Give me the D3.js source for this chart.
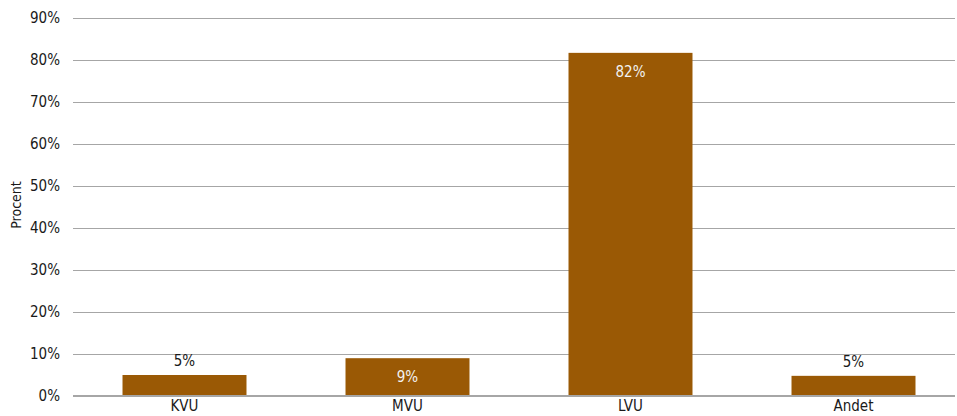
<!DOCTYPE html>
<html><head><meta charset="utf-8">
<script src="https://cdn.jsdelivr.net/npm/d3@7"></script>
<style>
body{margin:0;background:#fff;}
text{font-family:"DejaVu Sans Condensed","DejaVu Sans",sans-serif;font-size:15px;fill:#1a1a1a;}
</style></head>
<body><svg id="c" width="957" height="416"></svg>
<script>
const categories = ["KVU","MVU","LVU","Andet"];
const values = [5.0, 9.0, 81.7, 4.8];
const labels = ["5%","9%","82%","5%"];
const labelInside = [false, true, true, false];
const yTicks = [0,10,20,30,40,50,60,70,80,90];

(function(){
const svg = d3.select("#c");
const mLeft = 73, mRight = 955, mTop = 18, mBottom = 396;
const x = d3.scaleBand().domain(categories).range([mLeft, mLeft + 223*4]).paddingInner(0.444).paddingOuter(0.222);
const y = d3.scaleLinear().domain([0,90]).range([mBottom, mTop]);

svg.append("g").selectAll("line").data(yTicks.filter(d=>d>0)).join("line")
  .attr("x1", mLeft).attr("x2", mRight)
  .attr("y1", d=>y(d)).attr("y2", d=>y(d))
  .attr("stroke", "#a6a6a6").attr("stroke-width", 1).attr("shape-rendering","crispEdges");

svg.append("g").selectAll("text").data(yTicks).join("text")
  .attr("x", 60).attr("y", d=>y(d)).attr("dy","0.35em")
  .attr("text-anchor","end").text(d=>d+"%");

svg.append("g").selectAll("rect").data(values).join("rect")
  .attr("x", (d,i)=>x(categories[i])).attr("width", x.bandwidth())
  .attr("y", d=>y(d)).attr("height", d=>mBottom - y(d))
  .attr("fill", "#9a5905");

svg.append("line").attr("x1", mLeft).attr("x2", mRight).attr("y1", mBottom).attr("y2", mBottom)
  .attr("stroke", "#a6a6a6").attr("stroke-width", 2);

svg.append("g").selectAll("text").data(values).join("text")
  .attr("x", (d,i)=>x(categories[i]) + x.bandwidth()/2)
  .attr("y", (d,i)=> labelInside[i] ? (d < 20 ? (y(d)+mBottom)/2 + 5 : y(d) + 24) : y(d) - 9)
  .attr("text-anchor","middle")
  .style("fill", (d,i)=> labelInside[i] ? "#f2f2f2" : "#1a1a1a")
  .text((d,i)=>labels[i]);

svg.append("g").selectAll("text").data(categories).join("text")
  .attr("x", d=>x(d)+x.bandwidth()/2).attr("y", 411)
  .attr("text-anchor","middle").text(d=>d);

svg.append("text").attr("transform","translate(21,205) rotate(-90)")
  .attr("text-anchor","middle").style("font-size","14px").text("Procent");
})();
</script></body></html>
